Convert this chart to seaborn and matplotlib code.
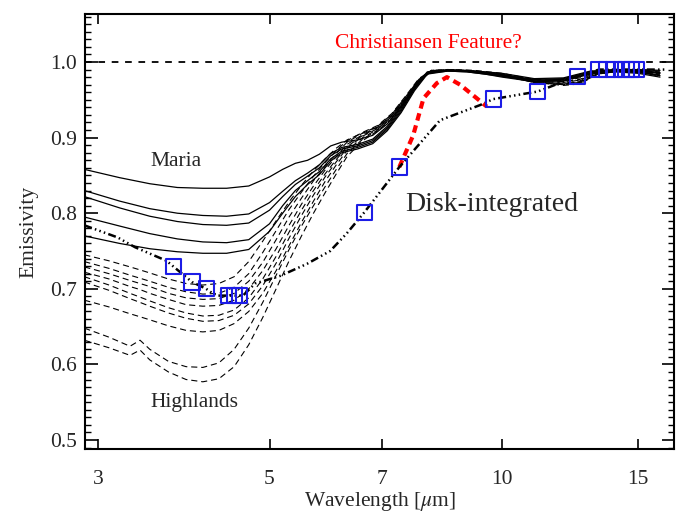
import numpy as np
import pandas as pd
import matplotlib
matplotlib.use('Agg')
import matplotlib.pyplot as plt
import seaborn as sns
from matplotlib.ticker import FixedLocator, FixedFormatter, MultipleLocator, NullLocator

# ------------------------------------------------------------------
# Data
# ------------------------------------------------------------------
# Maria spectra (solid)
maria_wl = [2.88, 3.2, 3.5, 3.8, 4.1, 4.4, 4.7, 5.0, 5.2, 5.4, 5.6, 5.8, 6.0, 6.2, 6.5,
            6.8, 7.1, 7.4, 7.7, 8.0, 8.5, 9.0, 9.5, 10, 11, 12, 13, 14, 15, 16]
maria_1 = [0.858, 0.847, 0.839, 0.834, 0.833, 0.833, 0.836, 0.848, 0.858, 0.866, 0.870, 0.878, 0.889, 0.894, 0.897,
           0.903, 0.918, 0.941, 0.968, 0.987, 0.990, 0.989, 0.987, 0.985, 0.978, 0.979, 0.988, 0.990, 0.990, 0.989]
maria_2 = [0.830, 0.816, 0.806, 0.800, 0.797, 0.796, 0.799, 0.814, 0.829, 0.843, 0.853, 0.864, 0.879, 0.887, 0.891,
           0.898, 0.915, 0.939, 0.967, 0.986, 0.989, 0.988, 0.986, 0.983, 0.977, 0.978, 0.987, 0.990, 0.989, 0.986]
maria_3 = [0.822, 0.807, 0.796, 0.789, 0.785, 0.784, 0.787, 0.804, 0.822, 0.838, 0.849, 0.860, 0.876, 0.885, 0.889,
           0.896, 0.913, 0.937, 0.965, 0.985, 0.989, 0.988, 0.985, 0.982, 0.976, 0.977, 0.986, 0.989, 0.988, 0.985]
maria_4 = [0.795, 0.783, 0.773, 0.766, 0.762, 0.761, 0.765, 0.786, 0.810, 0.830, 0.843, 0.855, 0.872, 0.882, 0.887,
           0.894, 0.911, 0.935, 0.964, 0.985, 0.988, 0.987, 0.984, 0.981, 0.975, 0.976, 0.985, 0.988, 0.986, 0.982]
maria_5 = [0.770, 0.760, 0.753, 0.749, 0.747, 0.747, 0.752, 0.776, 0.800, 0.822, 0.838, 0.851, 0.869, 0.880, 0.885,
           0.892, 0.909, 0.933, 0.962, 0.984, 0.988, 0.987, 0.984, 0.980, 0.974, 0.975, 0.984, 0.987, 0.985, 0.980]

# Highlands spectra (dashed)
high_wl = [2.88, 3.1, 3.3, 3.4, 3.5, 3.7, 3.9, 4.1, 4.3, 4.5, 4.7, 4.9, 5.1, 5.3, 5.5, 5.7, 5.9, 6.1,
           6.3, 6.6, 6.9, 7.2, 7.5, 7.8, 8.1, 8.6, 9.2, 10, 11, 12, 12.6, 13.3, 14.2, 15, 16]
high_1 = [0.745, 0.737, 0.729, 0.725, 0.721, 0.713, 0.707, 0.705, 0.707, 0.716, 0.736, 0.763, 0.790, 0.815, 0.837, 0.856, 0.872, 0.886,
          0.897, 0.906, 0.914, 0.930, 0.952, 0.976, 0.989, 0.990, 0.989, 0.985, 0.977, 0.975, 0.979, 0.988, 0.990, 0.990, 0.988]
high_2 = [0.736, 0.727, 0.718, 0.714, 0.710, 0.702, 0.696, 0.693, 0.694, 0.702, 0.720, 0.748, 0.777, 0.805, 0.828, 0.849, 0.867, 0.883,
          0.896, 0.907, 0.916, 0.932, 0.955, 0.978, 0.989, 0.990, 0.988, 0.984, 0.976, 0.974, 0.977, 0.987, 0.990, 0.989, 0.987]
high_3 = [0.729, 0.720, 0.711, 0.707, 0.703, 0.694, 0.688, 0.686, 0.687, 0.694, 0.710, 0.735, 0.765, 0.795, 0.820, 0.843, 0.862, 0.879,
          0.894, 0.906, 0.915, 0.931, 0.954, 0.977, 0.989, 0.989, 0.988, 0.984, 0.975, 0.973, 0.976, 0.987, 0.989, 0.989, 0.986]
high_4 = [0.722, 0.713, 0.703, 0.699, 0.694, 0.686, 0.679, 0.677, 0.678, 0.685, 0.700, 0.724, 0.753, 0.784, 0.812, 0.836, 0.857, 0.875,
          0.891, 0.904, 0.914, 0.930, 0.953, 0.977, 0.988, 0.989, 0.988, 0.983, 0.975, 0.972, 0.975, 0.986, 0.989, 0.988, 0.985]
high_5 = [0.716, 0.705, 0.694, 0.689, 0.684, 0.675, 0.668, 0.664, 0.665, 0.672, 0.688, 0.713, 0.743, 0.775, 0.804, 0.830, 0.852, 0.871,
          0.888, 0.903, 0.913, 0.929, 0.952, 0.976, 0.988, 0.989, 0.987, 0.983, 0.974, 0.971, 0.974, 0.985, 0.989, 0.988, 0.984]
high_6 = [0.709, 0.698, 0.687, 0.682, 0.677, 0.668, 0.661, 0.657, 0.658, 0.665, 0.680, 0.704, 0.734, 0.767, 0.797, 0.824, 0.848, 0.868,
          0.886, 0.902, 0.912, 0.928, 0.951, 0.975, 0.988, 0.989, 0.987, 0.982, 0.974, 0.971, 0.973, 0.985, 0.988, 0.987, 0.983]
high_7 = [0.685, 0.676, 0.667, 0.663, 0.659, 0.651, 0.645, 0.643, 0.645, 0.654, 0.670, 0.694, 0.724, 0.757, 0.788, 0.816, 0.842, 0.864,
          0.883, 0.900, 0.911, 0.927, 0.950, 0.975, 0.988, 0.989, 0.987, 0.982, 0.973, 0.970, 0.973, 0.985, 0.988, 0.987, 0.983]
high_8 = [0.648, 0.636, 0.624, 0.632, 0.620, 0.604, 0.597, 0.596, 0.602, 0.620, 0.648, 0.682, 0.718, 0.752, 0.783, 0.810, 0.835, 0.858,
          0.879, 0.898, 0.910, 0.926, 0.949, 0.974, 0.988, 0.989, 0.987, 0.982, 0.973, 0.970, 0.972, 0.984, 0.988, 0.987, 0.982]
high_9 = [0.632, 0.622, 0.612, 0.619, 0.606, 0.590, 0.580, 0.577, 0.581, 0.597, 0.626, 0.662, 0.700, 0.737, 0.770, 0.800, 0.827, 0.852,
          0.875, 0.896, 0.909, 0.925, 0.948, 0.973, 0.988, 0.989, 0.987, 0.982, 0.973, 0.969, 0.971, 0.984, 0.988, 0.987, 0.981]

# Disk-integrated curve (dash-dot-dot-dot) and its measured points (squares)
disk_wl = [2.88, 3.18, 3.35, 3.68, 3.76, 3.97, 4.14, 4.26, 4.43, 4.62, 4.79, 5.16, 5.59, 5.99, 6.29, 6.63,
           7.36, 8.31, 9.36, 9.74, 11.12, 12.50, 13.34, 14.0, 15.0, 16.3]
disk_em = [0.784, 0.768, 0.755, 0.737, 0.729, 0.709, 0.700, 0.691, 0.691, 0.691, 0.707, 0.717, 0.733, 0.750, 0.773, 0.801,
           0.861, 0.923, 0.943, 0.951, 0.961, 0.981, 0.990, 0.990, 0.990, 0.990]
square_wl = [3.76, 3.97, 4.14, 4.43, 4.50, 4.57, 6.63, 7.36, 9.74, 11.12, 12.50,
             13.34, 13.66, 13.95, 14.25, 14.46, 14.68, 14.92]
square_em = [0.729, 0.709, 0.700, 0.691, 0.691, 0.691, 0.801, 0.861, 0.951, 0.961, 0.981,
             0.990, 0.990, 0.990, 0.990, 0.990, 0.990, 0.990]

# Christiansen feature branch (red dashed)
cf_wl = [7.36, 7.67, 7.91, 8.23, 8.48, 8.82, 9.27, 9.55]
cf_em = [0.861, 0.903, 0.952, 0.972, 0.980, 0.970, 0.952, 0.941]

BLUE = '#1c1ce6'

sns.set_style('ticks')
plt.rcParams['font.family'] = ['Liberation Serif', 'DejaVu Serif']
plt.rcParams['mathtext.fontset'] = 'stix'

fig = plt.figure(figsize=(6.84, 5.16), dpi=100)
ax = fig.add_axes([85 / 684, 1 - 449 / 516, 589 / 684, 435 / 516])

maria = pd.DataFrame({
    'wl': maria_wl * 5,
    'em': maria_1 + maria_2 + maria_3 + maria_4 + maria_5,
    'curve': np.repeat(np.arange(5), len(maria_wl)),
})
high_lines = [high_1, high_2, high_3, high_4, high_5, high_6, high_7, high_8, high_9]
high = pd.DataFrame({
    'wl': high_wl * len(high_lines),
    'em': sum(high_lines, []),
    'curve': np.repeat(np.arange(len(high_lines)), len(high_wl)),
})

ax.axhline(1.0, color='black', lw=1.3, linestyle=(0, (3.7, 3.7)), zorder=1)

sns.lineplot(data=maria, x='wl', y='em', units='curve', estimator=None, sort=False,
             color='black', lw=0.9, legend=False, ax=ax)
sns.lineplot(data=high, x='wl', y='em', units='curve', estimator=None, sort=False,
             color='black', lw=0.8, linestyle=(0, (5.5, 3.5)), legend=False, ax=ax)
sns.lineplot(x=cf_wl, y=cf_em, color='red', lw=3, linestyle=(0, (1.8, 1.2)),
             estimator=None, sort=False, ax=ax, zorder=3)
sns.lineplot(x=disk_wl, y=disk_em, color='black', lw=1.8,
             linestyle=(0, (3.2, 1.3, 0.6, 1.3, 0.6, 1.3, 0.6, 1.3)),
             estimator=None, sort=False, ax=ax, zorder=4)
ax.scatter(square_wl, square_em, marker='s', s=120, facecolors='none',
           edgecolors=BLUE, linewidths=1.5, zorder=5)

ax.set_xscale('log')
ax.set_xlim(2.886, 16.68)
ax.set_ylim(0.4881, 1.0635)
ax.xaxis.set_major_locator(FixedLocator([3, 5, 7, 10, 15]))
ax.xaxis.set_major_formatter(FixedFormatter(['3', '5', '7', '10', '15']))
ax.xaxis.set_minor_locator(NullLocator())
ax.yaxis.set_major_locator(FixedLocator([0.5, 0.6, 0.7, 0.8, 0.9, 1.0]))
ax.yaxis.set_major_formatter(FixedFormatter(['0.5', '0.6', '0.7', '0.8', '0.9', '1.0']))
ax.yaxis.set_minor_locator(MultipleLocator(0.01))

ax.tick_params(which='both', direction='in', top=True, right=True, color='black')
ax.tick_params(which='major', width=1.2, labelsize=15.5)
ax.tick_params(axis='x', which='major', length=7, pad=15)
ax.tick_params(axis='y', which='major', length=9, pad=6)
ax.tick_params(which='minor', length=4.5, width=1.0)
for sp in ax.spines.values():
    sp.set_linewidth(1.5)
    sp.set_color('black')

ax.set_xlabel('Wavelength [$\\mu$m]', fontsize=15.5, labelpad=1)
ax.set_ylabel('Emissivity', fontsize=15.5, labelpad=8)

ax.text(8.03, 1.024, 'Christiansen Feature?', color='red', fontsize=15.5,
        ha='center', va='center')
ax.text(3.79, 0.869, 'Maria', fontsize=15.5, ha='center', va='center')
ax.text(4.0, 0.550, 'Highlands', fontsize=15.5, ha='center', va='center')
ax.text(9.69, 0.812, 'Disk-integrated', fontsize=20, ha='center', va='center')

fig.savefig('out.png', dpi=100)
